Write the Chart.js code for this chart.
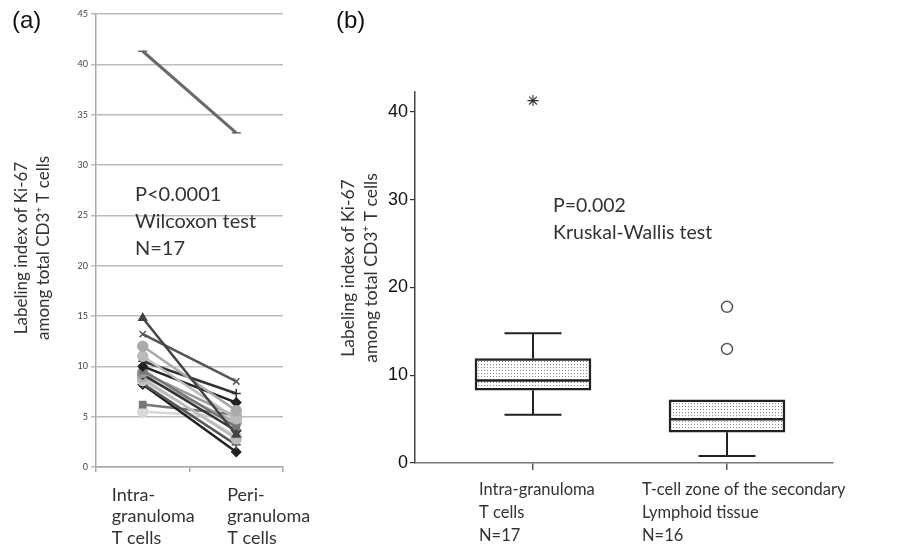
<!DOCTYPE html>
<html>
<head>
<meta charset="utf-8">
<script src="https://cdn.jsdelivr.net/npm/chart.js@4"></script>
<style>
  body { margin: 0; background: #fff; width: 898px; height: 551px; overflow: hidden; position: relative; }
  canvas { position: absolute; top: 0; }
  #chartA { left: 0; }
  #chartB { left: 330px; }
  .note { position: absolute; color: #333; font-family: Lato, sans-serif; white-space: nowrap; }
  .panel { position: absolute; font-family: 'Liberation Sans', Arial, sans-serif; font-size: 24px; color: #111; line-height: 1; }
</style>
</head>
<body>
<canvas id="chartA" width="330" height="551"></canvas>
<canvas id="chartB" width="568" height="551"></canvas>
<div class="panel" style="left:12px;top:8px">(a)</div>
<div class="panel" style="left:336px;top:8px">(b)</div>
<div class="note" style="left:135px;top:180px;font-size:20px;line-height:27px">P&lt;0.0001<br>Wilcoxon test<br>N=17</div>
<div class="note" style="left:553px;top:191px;font-size:19.5px;line-height:27px">P=0.002<br>Kruskal-Wallis test</div>
<script>
// panel (a): paired values per patient
const pairCategories = [['Intra-', 'granuloma', 'T cells'], ['Peri-', 'granuloma', 'T cells']];
const intraValues = [41.3, 14.8, 13.2, 12.0, 11.0, 10.5, 10.0, 9.6, 9.4, 9.2, 9.0, 8.8, 8.6, 8.3, 8.2, 6.2, 5.5];
const periValues = [33.2, 3.2, 8.5, 5.6, 4.8, 7.3, 6.4, 4.0, 5.0, 3.6, 4.4, 2.8, 3.0, 2.2, 1.5, 5.2, 5.0];
const yTicksA = [0, 5, 10, 15, 20, 25, 30, 35, 40, 45];

// panel (b): box plot summaries
const boxCategories = [['Intra-granuloma', 'T cells', 'N=17'], ['T-cell zone of the secondary', 'Lymphoid tissue', 'N=16']];
const boxQ1 = [8.3, 3.5];
const boxMedian = [9.4, 5.0];
const boxQ3 = [11.9, 7.2];
const whiskerLow = [5.5, 0.8];
const whiskerHigh = [14.8, 7.2];
const outliersIntra = [41.3];
const outliersTcell = [13.0, 17.8];
const yTicksB = [0, 10, 20, 30, 40];

const yTitle = ['Labeling index of Ki-67', 'among total CD3\u207A T cells'];

const subjectColors = ['#6a6a6a', '#444', '#555', '#aaa', '#bbb', '#333', '#222', '#777', '#999',
  '#333', '#aaa', '#bbb', '#c8c8c8', '#555', '#222', '#777', '#d8d8d8'];
const subjectMarkers = ['line', 'triangle', 'crossRot', 'circle', 'circle', 'cross', 'rectRot', 'rect', 'circle',
  'rectRot', 'circle', 'circle', 'circle', 'cross', 'rectRot', 'rect', 'circle'];

const multiLineLabels = {
  id: 'multiLineLabels',
  afterDraw(chart, args, opts) {
    const ctx = chart.ctx;
    const x = chart.scales.x;
    const bottom = chart.chartArea.bottom;
    ctx.save();
    ctx.font = opts.font;
    ctx.fillStyle = opts.color;
    ctx.textAlign = 'left';
    ctx.textBaseline = 'middle';
    opts.labels.forEach((lines, i) => {
      const px = x.getPixelForValue(i) + opts.shift[i];
      lines.forEach((t, j) => ctx.fillText(t, px, bottom + opts.top + j * opts.step));
    });
    ctx.restore();
  }
};

// rotated two-line y title, centred on the plot area with a small shift
const sideTitle = {
  id: 'sideTitle',
  afterDraw(chart, args, opts) {
    const ctx = chart.ctx;
    const area = chart.chartArea;
    ctx.save();
    ctx.font = opts.font;
    ctx.fillStyle = opts.color;
    ctx.textAlign = 'center';
    ctx.textBaseline = 'middle';
    ctx.translate(opts.x, (area.top + area.bottom) / 2 + opts.dy);
    ctx.rotate(-Math.PI / 2);
    opts.lines.forEach((t, j) => ctx.fillText(t, 0, j * opts.step));
    ctx.restore();
  }
};

const boxWhiskers = {
  id: 'boxWhiskers',
  beforeDatasetsDraw(chart, args, opts) {
    const { ctx, scales: { x, y } } = chart;
    ctx.save();
    ctx.strokeStyle = opts.color;
    ctx.lineWidth = opts.width;
    boxMedian.forEach((m, i) => {
      const px = x.getPixelForValue(i);
      ctx.beginPath();
      ctx.moveTo(px, y.getPixelForValue(whiskerLow[i]));
      ctx.lineTo(px, y.getPixelForValue(boxQ1[i]));
      ctx.moveTo(px, y.getPixelForValue(boxQ3[i]));
      ctx.lineTo(px, y.getPixelForValue(whiskerHigh[i]));
      [whiskerLow[i], whiskerHigh[i]].forEach(v => {
        if (v < boxQ1[i] || v > boxQ3[i]) {
          const py = y.getPixelForValue(v);
          ctx.moveTo(px - opts.cap / 2, py);
          ctx.lineTo(px + opts.cap / 2, py);
        }
      });
      ctx.stroke();
    });
    ctx.restore();
  },
  afterDatasetsDraw(chart, args, opts) {
    const { ctx, scales: { y } } = chart;
    const bars = chart.getDatasetMeta(0).data;
    ctx.save();
    ctx.strokeStyle = opts.color;
    ctx.lineWidth = opts.medianWidth;
    boxMedian.forEach((m, i) => {
      const el = bars[i];
      const py = y.getPixelForValue(m);
      ctx.beginPath();
      ctx.moveTo(el.x - el.width / 2, py);
      ctx.lineTo(el.x + el.width / 2, py);
      ctx.stroke();
    });
    ctx.restore();
  }
};

function stipple() {
  const c = document.createElement('canvas');
  c.width = 3; c.height = 3;
  const g = c.getContext('2d');
  g.fillStyle = '#fff';
  g.fillRect(0, 0, 3, 3);
  g.fillStyle = '#8a8a8a';
  g.fillRect(1, 1, 1, 1);
  return g.createPattern(c, 'repeat');
}

new Chart(document.getElementById('chartA'), {
  type: 'line',
  data: {
    labels: pairCategories.map(l => l.join(' ')),
    datasets: intraValues.map((v, i) => ({
      data: [v, periValues[i]],
      borderColor: subjectColors[i],
      backgroundColor: subjectColors[i],
      pointStyle: subjectMarkers[i],
      pointRadius: subjectMarkers[i] === 'circle' ? 5 : 4.5,
      pointBorderWidth: 1.5,
      borderWidth: i === 0 ? 3 : 2.5
    }))
  },
  options: {
    responsive: false,
    animation: false,
    layout: { padding: { left: 0, right: 47, top: 14, bottom: 64 } },
    plugins: {
      legend: { display: false },
      tooltip: { enabled: false },
      multiLineLabels: { labels: pairCategories, shift: [-31, -9], top: 28, step: 21.5, font: '18px Lato', color: '#333' },
      sideTitle: { lines: yTitle, x: 22, dy: 7.5, step: 22, font: '17px Lato', color: '#333' }
    },
    scales: {
      x: {
        offset: true,
        grid: { offset: true, drawOnChartArea: false, tickLength: 5, color: '#aaa', lineWidth: 1.5 },
        border: { color: '#aaa', width: 1.5 },
        ticks: { display: false },
        afterFit: s => { s.height = 20; }
      },
      y: {
        min: 0,
        max: 45,
        afterBuildTicks: s => { s.ticks = yTicksA.map(v => ({ value: v })); },
        grid: { color: '#bdbdbd', lineWidth: 1.5, tickLength: 5 },
        border: { color: '#aaa', width: 1.5 },
        ticks: { font: { family: 'Lato', size: 9 }, color: '#444', padding: 3 },
        afterFit: s => { s.width = 96; }
      }
    }
  },
  plugins: [multiLineLabels, sideTitle]
});

new Chart(document.getElementById('chartB'), {
  type: 'bar',
  data: {
    datasets: [
      {
        type: 'bar',
        data: boxQ1.map((q, i) => ({ x: i, y: [q, boxQ3[i]] })),
        backgroundColor: stipple(),
        borderColor: '#222',
        borderWidth: 2.5,
        borderSkipped: false,
        barThickness: 116
      },
      {
        type: 'line',
        data: outliersIntra.map(v => ({ x: 0, y: v })),
        showLine: false,
        pointStyle: 'star',
        pointRadius: 5.5,
        borderColor: '#333',
        pointBorderWidth: 1.1
      },
      {
        type: 'line',
        data: outliersTcell.map(v => ({ x: 1, y: v })),
        showLine: false,
        pointStyle: 'circle',
        pointRadius: 5.5,
        backgroundColor: '#fff',
        borderColor: '#555',
        pointBorderWidth: 1.5
      }
    ]
  },
  options: {
    responsive: false,
    animation: false,
    layout: { padding: { left: 0, right: 65, top: 92, bottom: 58 } },
    plugins: {
      legend: { display: false },
      tooltip: { enabled: false },
      multiLineLabels: { labels: boxCategories, shift: [-54, -85], top: 27, step: 23, font: '16.5px Lato', color: '#333' },
      sideTitle: { lines: yTitle, x: 18, dy: -9.5, step: 23, font: '17.5px Lato', color: '#333' },
      boxWhiskers: { color: '#222', width: 2, medianWidth: 2.5, cap: 57 }
    },
    scales: {
      x: {
        type: 'linear',
        min: -0.6082,
        max: 1.5464,
        offset: false,
        afterBuildTicks: s => { s.ticks = [{ value: 0 }, { value: 1 }]; },
        grid: { offset: false, drawOnChartArea: false, tickLength: 7, color: '#555', lineWidth: 1.5 },
        border: { color: '#777', width: 1.5 },
        ticks: { display: false },
        afterFit: s => { s.height = 30; }
      },
      y: {
        min: 0,
        max: 42.28,
        afterBuildTicks: s => { s.ticks = yTicksB.map(v => ({ value: v })); },
        grid: { drawOnChartArea: false, tickLength: 5, color: '#333', lineWidth: 1.2 },
        border: { color: '#444', width: 1.5 },
        ticks: { font: { family: 'Liberation Sans', size: 18 }, color: '#111', padding: 2 },
        afterFit: s => { s.width = 85; }
      }
    }
  },
  plugins: [multiLineLabels, sideTitle, boxWhiskers]
});
</script>
</body>
</html>
